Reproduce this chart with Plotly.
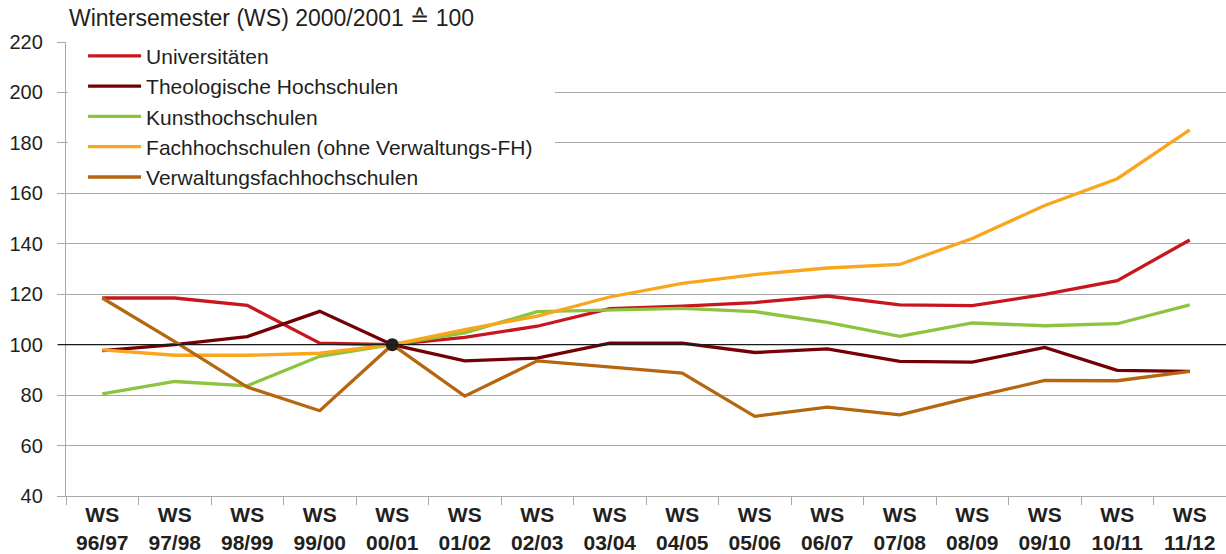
import plotly.graph_objects as go

categories = ["96/97", "97/98", "98/99", "99/00", "00/01", "01/02", "02/03", "03/04",
              "04/05", "05/06", "06/07", "07/08", "08/09", "09/10", "10/11", "11/12"]
tick_labels = ["WS<br>" + c for c in categories]

universitaeten = [118.5, 118.5, 115.6, 100.6, 100.0, 102.9, 107.3, 114.3,
                  115.3, 116.7, 119.3, 115.8, 115.5, 119.9, 125.4, 141.5]
theologische = [97.6, 100.0, 103.2, 113.2, 100.0, 93.6, 94.7, 100.6,
                100.6, 96.9, 98.3, 93.4, 93.1, 98.9, 89.8, 89.4]
kunsthochschulen = [80.5, 85.4, 83.7, 95.4, 100.0, 104.7, 113.1, 113.7,
                    114.4, 113.1, 108.8, 103.3, 108.6, 107.5, 108.3, 115.8]
fachhochschulen = [97.9, 95.8, 95.8, 96.6, 100.0, 106.0, 111.3, 118.9,
                   124.3, 127.8, 130.4, 131.8, 142.1, 155.2, 165.8, 185.2]
verwaltung = [118.5, 101.2, 83.2, 73.8, 100.0, 79.6, 93.6, 91.2,
              88.7, 71.6, 75.2, 72.2, 79.2, 85.8, 85.7, 89.4]

series = [
    ("Universitäten", universitaeten, "#C8161E"),
    ("Theologische Hochschulen", theologische, "#740005"),
    ("Kunsthochschulen", kunsthochschulen, "#8CC43F"),
    ("Fachhochschulen (ohne Verwaltungs-FH)", fachhochschulen, "#F9A61D"),
    ("Verwaltungsfachhochschulen", verwaltung, "#B5660F"),
]

BASE_CATEGORY = "00/01"
BASE_VALUE = 100

FONT = "Liberation Sans, Arial, Helvetica, sans-serif"
TEXT = "#231F20"
GRID = "#A8A8A8"

fig = go.Figure()
for i, (name, vals, col) in enumerate(series):
    fig.add_trace(go.Scatter(
        x=categories, y=vals, name=name, mode="lines",
        line=dict(color=col, width=3.3), legendgroup=f"g{i}",
    ))

fig.add_trace(go.Scatter(
    x=[BASE_CATEGORY], y=[BASE_VALUE], mode="markers", showlegend=False,
    marker=dict(color=TEXT, size=13), hoverinfo="skip",
))

# reference line at the base value
fig.add_shape(type="line", xref="paper", x0=-0.007, x1=1, yref="y",
              y0=BASE_VALUE, y1=BASE_VALUE, line=dict(color="#1a1a1a", width=1.3),
              layer="above")
# white panel behind the legend (hides the grid lines there)
fig.add_shape(type="rect", xref="paper", x0=0.0015, x1=0.4216, yref="y",
              y0=168, y1=212, line=dict(width=0), fillcolor="white",
              layer="above")

fig.update_layout(
    width=1226, height=554,
    margin=dict(l=66, r=0, t=42, b=58, autoexpand=False),
    paper_bgcolor="white", plot_bgcolor="white",
    font=dict(family=FONT, size=20, color=TEXT),
    showlegend=True,
    legend=dict(
        x=0.0147, y=1.014, xanchor="left", yanchor="top",
        bgcolor="rgba(0,0,0,0)", borderwidth=0,
        font=dict(size=21, color=TEXT),
        tracegroupgap=0, itemwidth=53,
    ),
    annotations=[dict(
        text="Wintersemester (WS) 2000/2001 ≙ 100", xref="paper", yref="paper",
        x=0, y=1, xanchor="left", yanchor="bottom", yshift=9, xshift=1,
        showarrow=False, font=dict(size=23, color=TEXT),
    )],
)

fig.update_xaxes(
    type="category", tickmode="array", tickvals=categories, ticktext=tick_labels,
    tickson="boundaries", ticks="outside", ticklen=8, tickcolor=GRID, tickwidth=1,
    showline=True, linecolor=GRID, linewidth=1.3, showgrid=False,
    tickfont=dict(size=21, color=TEXT, weight="bold"),
    range=[-0.5, len(categories) - 0.5], automargin=False,
)
fig.update_yaxes(
    range=[40, 220], dtick=20, tick0=40,
    ticks="outside", ticklen=8, tickcolor=GRID,
    showline=True, linecolor=GRID, linewidth=1.3,
    showgrid=True, gridcolor=GRID, gridwidth=1,
    zeroline=False, tickfont=dict(size=20, color=TEXT),
    ticklabelstandoff=10, automargin=False,
)

fig.write_html("out.html", config={"displayModeBar": False},
               post_script="document.body.style.margin='0';")
